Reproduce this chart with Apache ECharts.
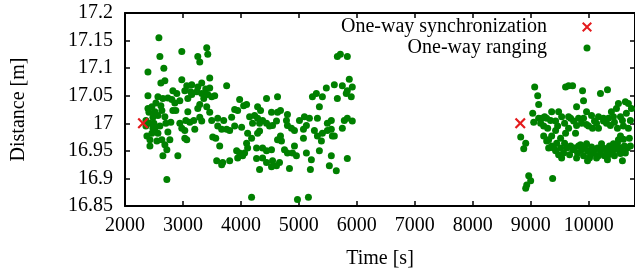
<!DOCTYPE html>
<html>
<head>
<meta charset="utf-8">
<script src="https://cdn.jsdelivr.net/npm/echarts@6/dist/echarts.min.js"></script>
<style>
  html, body { margin: 0; padding: 0; background: #fff; }
  #chart { width: 635px; height: 274px; }
</style>
</head>
<body>
<div id="chart"></div>
<script>
// one-way synchronization events
var syncTime = [2310, 8820];
var syncDist = [17.0, 17.0];

// one-way ranging samples, time [s]
var rangeTime = [
  2585, 2602, 2980, 2396, 2670, 2619, 2688, 2980, 2396, 2568, 2740, 2808, 2894, 2860, 2946,
  2464, 2619, 2636, 2826, 2413, 2482, 2568, 2688, 2791, 2946, 2980, 2499, 2482, 2568, 2378,
  2430, 2550, 2740, 2636, 2774, 2688, 2722, 2654, 2912, 2722, 2361, 2516,
  2361, 2430, 2464, 2516, 2396, 2533, 2602, 2430, 2705, 2654, 2877, 2826,
  3410, 3256, 3428, 3290, 3066, 3152, 3135, 3256, 3324, 3393, 3462, 3462, 3324, 3496, 3548,
  3032, 3754, 3978, 3290, 3256, 3410, 3084, 3462, 3892, 3944, 4047, 3049, 3118, 3187, 3290,
  3324, 3204, 3032, 3496, 3600, 3703, 3840, 3600, 3668, 3754, 3806, 3892, 4012, 3066, 3514,
  3566, 3634, 3926, 3978, 3944, 4030, 3582, 3686, 3668, 3806, 3032,
  3152, 3239, 3359, 3084, 3428,
  4632, 4442, 4098, 4288, 4339, 4528, 4632, 4683, 4150, 4236, 4288, 4201, 4322, 4374, 4442,
  4494, 4546, 4614, 4803, 4786, 4803, 4872, 4924, 5010, 5079, 5079, 4116, 4184, 4288, 4322,
  4632, 4700, 4683, 4098, 4116, 4064, 4270, 4374, 4442, 4528, 4752, 4803, 4890, 4958, 4924,
  4270, 4374, 4442, 4546, 4614, 4666, 4528, 4322, 4838, 4184, 4976, 5165,
  5664, 5716, 5836, 5870, 5612, 5750, 5922, 5836, 5818, 5904, 5664, 5474, 5302, 5234, 5406,
  5354, 5096, 5182, 5130, 5320, 5560, 5492, 5784, 5836, 5922, 5750, 5268, 5320, 5406, 5492,
  5560, 5578, 5389, 5612, 5130, 5216, 5354, 5560, 5836, 5199, 5526, 5646,
  9069, 9121, 9138, 9035, 9052, 9190, 9344, 9362, 9482, 9534, 9430, 9276, 9602, 9654, 8828,
  8914, 8880, 8966, 9000, 8932, 8914, 9379, 9310, 9362, 9430, 9482, 9534, 9396, 9448, 9516,
  9602, 9654, 9430, 9465, 9293, 9224,
  9723, 9895, 9912, 10204, 10325, 10514, 10634, 10480, 9964, 10050, 10101, 10256, 10256, 10428, 10376,
  10583, 10497, 10600, 9998, 10067, 9689, 9740, 9774, 10549, 10514, 10600, 9689, 9757, 9826, 9878,
  9929, 9981, 10050, 10101, 10153, 10204, 10256, 10308, 10359, 10411, 10462, 10514, 10566, 10617, 9981,
  10583, 9809, 10033, 10170, 10342, 10428, 10686, 10720, 10738, 10703, 10669, 9276, 9310, 9568, 9620,
  9224, 9362, 9826, 9878, 10136, 10308, 10445, 10651,
  9516, 9671, 9723, 9792, 9860, 9912, 9964, 10015, 10084, 10136, 10222, 10273, 10325, 10376, 10445,
  10497, 10549, 10634, 10720, 9585,
  9792, 9912, 9964, 10170, 10342, 10393, 10549, 10686, 10170, 9585, 9654, 9241, 9138, 9172, 9792
];

// one-way ranging samples, distance [m]
var rangeDist = [
  17.155, 17.121, 17.130, 17.093, 17.100, 17.073, 17.077, 17.079, 17.050, 17.048, 17.046, 17.043, 17.054, 17.037, 17.041,
  17.030, 17.032, 17.023, 17.023, 17.020, 17.011, 17.014, 17.012, 17.002, 17.000, 16.991, 17.000, 16.991, 16.982, 16.977,
  16.970, 16.968, 16.984, 16.970, 16.970, 16.961, 16.952, 16.941, 16.941, 16.898, 17.005, 17.021,
  16.995, 17.000, 16.982, 16.991, 17.027, 17.037, 16.995, 16.959, 17.000, 17.045, 17.023, 17.059,
  17.137, 17.121, 17.125, 17.111, 17.068, 17.070, 17.057, 17.066, 17.073, 17.062, 17.082, 17.064, 17.054, 17.048, 17.050,
  17.059, 17.068, 17.043, 17.034, 17.027, 17.030, 17.021, 17.020, 17.025, 17.023, 17.032, 17.005, 17.002, 17.005, 17.011,
  17.004, 16.989, 16.987, 17.005, 17.009, 17.005, 17.011, 16.995, 16.989, 16.989, 16.987, 16.995, 16.993, 16.970, 16.975,
  16.973, 16.959, 16.950, 16.946, 16.937, 16.941, 16.932, 16.929, 16.925, 16.932, 16.973,
  17.052, 17.057, 17.045, 17.045, 17.052,
  17.048, 17.045, 17.034, 17.030, 17.023, 17.020, 17.020, 17.023, 17.012, 17.014, 17.009, 17.000, 17.000, 17.005, 17.000,
  16.995, 16.996, 17.004, 17.016, 17.005, 16.996, 16.991, 16.987, 17.005, 16.989, 16.973, 16.982, 16.973, 16.982, 16.986,
  16.970, 16.968, 16.977, 16.964, 16.955, 16.946, 16.955, 16.955, 16.950, 16.952, 16.952, 16.946, 16.946, 16.941, 16.959,
  16.936, 16.937, 16.929, 16.932, 16.923, 16.929, 16.921, 16.916, 16.918, 16.866, 16.862, 16.866,
  17.121, 17.125, 17.121, 17.080, 17.070, 17.068, 17.066, 17.059, 17.054, 17.048, 17.045, 17.064, 17.054, 17.048, 17.048,
  17.030, 17.012, 17.009, 16.996, 17.009, 17.005, 17.000, 17.005, 17.009, 17.004, 16.991, 16.987, 16.977, 16.982, 16.987,
  16.989, 16.977, 16.968, 16.977, 16.946, 16.934, 16.950, 16.941, 16.936, 16.916, 16.923, 16.914,
  17.066, 17.050, 17.034, 17.018, 17.002, 17.009, 17.005, 17.021, 17.021, 17.012, 17.004, 17.009, 17.066, 17.068, 16.975,
  16.964, 16.954, 16.905, 16.896, 16.888, 16.882, 16.900, 16.970, 16.959, 16.950, 16.943, 16.937, 16.955, 16.964, 16.973,
  16.982, 16.991, 16.987, 16.995, 16.991, 16.995,
  17.068, 17.059, 17.041, 17.054, 17.061, 17.036, 17.039, 17.027, 17.021, 17.014, 17.004, 17.009, 17.004, 17.012, 16.996,
  17.005, 16.991, 16.995, 16.995, 16.991, 17.009, 17.004, 16.982, 16.977, 16.970, 16.971, 16.959, 16.955, 16.959, 16.952,
  16.955, 16.950, 16.957, 16.952, 16.955, 16.948, 16.955, 16.950, 16.959, 16.946, 16.954, 16.952, 16.955, 16.959, 16.932,
  16.932, 16.946, 16.943, 16.941, 16.943, 16.963, 16.991, 17.005, 17.027, 16.973, 16.955, 16.968, 16.955, 16.946, 16.955,
  16.977, 16.977, 17.009, 17.000, 17.000, 17.000, 17.002, 17.018,
  16.955, 16.943, 16.952, 16.937, 16.961, 16.941, 16.963, 16.937, 16.946, 16.937, 16.963, 16.941, 16.934, 16.952, 16.941,
  16.963, 16.945, 16.946, 16.959, 16.964,
  16.996, 17.009, 16.998, 17.012, 17.009, 17.021, 17.012, 17.036, 16.991, 17.000, 17.012, 17.012, 17.009, 17.000, 17.030
];

var xMin = 2000, xMax = 10800, xStep = 1000;
var yMin = 16.85, yMax = 17.2, yStep = 0.05;

var font = 'Liberation Serif';
var fontSize = 20;
var crossPath = 'path://M0,1.4 L1.4,0 L5,3.6 L8.6,0 L10,1.4 L6.4,5 L10,8.6 L8.6,10 L5,6.4 L1.4,10 L0,8.6 L3.6,5 Z';

function zip(a, b) {
  var out = [];
  for (var i = 0; i < a.length; i++) out.push([a[i], b[i]]);
  return out;
}

function xAxisDef(pos, showLabel) {
  return {
    type: 'value', position: pos, min: xMin, max: xMax, interval: xStep,
    axisLine: { onZero: false, lineStyle: { color: '#000', width: 2 } },
    axisTick: { inside: true, length: 5, lineStyle: { color: '#000', width: 1.5 } },
    axisLabel: {
      show: showLabel, showMaxLabel: false, margin: 10, color: '#000',
      fontFamily: font, fontSize: fontSize,
      formatter: function (v) { return String(v); }
    },
    splitLine: { show: false },
    name: showLabel ? 'Time [s]' : '', nameLocation: 'middle', nameGap: 43,
    nameTextStyle: { color: '#000', fontFamily: font, fontSize: fontSize }
  };
}

function yAxisDef(pos, showLabel) {
  return {
    type: 'value', position: pos, min: yMin, max: yMax, interval: yStep,
    axisLine: { onZero: false, lineStyle: { color: '#000', width: 2 } },
    axisTick: { inside: true, length: 5, lineStyle: { color: '#000', width: 1.5 } },
    axisLabel: {
      show: showLabel, margin: 12, color: '#000',
      fontFamily: font, fontSize: fontSize,
      formatter: function (v) { return String(parseFloat(v.toFixed(2))); }
    },
    splitLine: { show: false },
    name: showLabel ? 'Distance [m]' : '', nameLocation: 'middle', nameGap: 96,
    nameTextStyle: { color: '#000', fontFamily: font, fontSize: fontSize }
  };
}

var myChart = echarts.init(document.getElementById('chart'));
myChart.setOption({
  animation: false,
  backgroundColor: '#fff',
  grid: { left: 125, top: 13, width: 512, height: 196, containLabel: false },
  legend: [{
    data: ['One-way synchronization'],
    orient: 'vertical', align: 'right', right: 43, top: 17, padding: 0,
    itemWidth: 10, itemHeight: 10,
    textStyle: { color: '#000', fontFamily: font, fontSize: fontSize, padding: [0, 30, 0, 0] }
  }, {
    data: ['One-way ranging'],
    orient: 'vertical', align: 'right', right: 44.5, top: 38, padding: 0,
    itemWidth: 7, itemHeight: 7,
    textStyle: { color: '#000', fontFamily: font, fontSize: fontSize, padding: [0, 31.5, 0, 0] }
  }],
  xAxis: [xAxisDef('bottom', true), xAxisDef('top', false)],
  yAxis: [yAxisDef('left', true), yAxisDef('right', false)],
  series: [{
    name: 'One-way ranging',
    type: 'scatter',
    symbol: 'circle',
    symbolSize: 7,
    itemStyle: { color: '#008000', opacity: 1 },
    data: zip(rangeTime, rangeDist)
  }, {
    name: 'One-way synchronization',
    type: 'scatter',
    symbol: crossPath,
    symbolSize: 11,
    z: 5,
    itemStyle: { color: '#e41a1c', opacity: 1 },
    data: zip(syncTime, syncDist)
  }]
});
</script>
</body>
</html>
